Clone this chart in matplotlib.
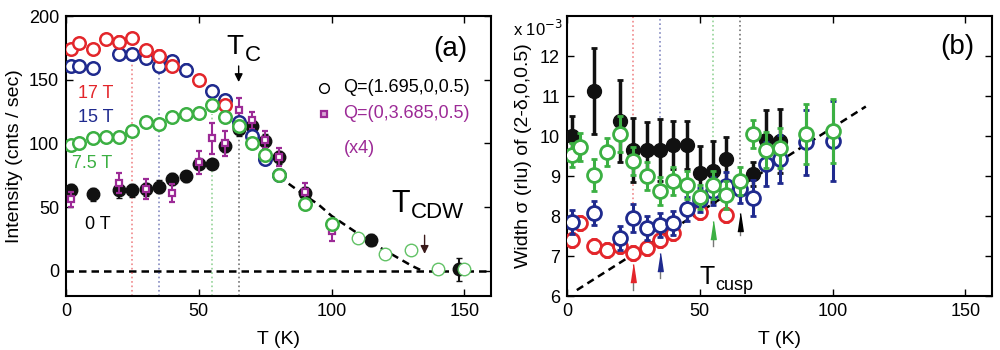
import matplotlib
matplotlib.use('Agg')
import matplotlib.pyplot as plt

plt.rcParams['font.family'] = ['Liberation Sans', 'DejaVu Sans']

RED = '#e3262b'
BLUE = '#1f2a8e'
GREEN = '#3cb043'
LIGHT_GREEN = '#62c266'
MAGENTA = '#9c2a96'

# ---------------- panel (a): intensity vs T ----------------
a_t17 = [2, 5, 10, 15, 20, 25, 30, 35, 40, 50, 60]
a_i17 = [174, 179, 174, 182, 180, 183, 173, 169, 161, 150, 130]

a_t15 = [2, 5, 10, 20, 25, 30, 35, 40, 45, 55, 60, 65, 70, 75, 80]
a_i15 = [161, 161, 159, 170, 170, 167, 161, 165, 158, 141, 134, 117, 106, 88, 75]

a_t75 = [2, 5, 10, 15, 20, 25, 30, 35, 40, 45, 50, 55, 60, 65, 70, 75, 80, 90, 100]
a_i75 = [99, 100, 104, 105, 105, 110, 117, 115, 121, 123, 124, 130, 121, 114, 100, 91, 75, 52, 37]

a_t75_hi = [110, 120, 130, 140, 150]
a_i75_hi = [26, 13, 16, 1, 1]

a_t0 = [2, 10, 20, 25, 30, 35, 40, 45, 50, 55, 60, 65, 70, 75, 80, 90, 115, 148]
a_i0 = [63, 60, 63, 63, 64, 66, 72, 74, 84, 84, 98, 111, 114, 102, 89, 61, 24, 1]
a_e0 = [5, 5, 6, 5, 5, 5, 5, 4, 4, 4, 5, 5, 5, 5, 5, 5, 5, 9]

a_tq = [2, 20, 30, 40, 50, 55, 60, 65, 70, 75, 80, 90, 100]
a_iq = [56, 69, 64, 61, 85, 104, 100, 126, 118, 103, 89, 62, 31]
a_eq = [6, 8, 8, 7, 9, 12, 10, 10, 7, 7, 7, 7, 8]

fit_t = [80, 82, 86, 90, 95, 100, 105, 110, 115, 120, 125, 130, 134]
fit_i = [74, 71, 65, 59, 52, 43, 36, 29, 22, 16, 10, 4, 0]

# T_cusp for 17 T, 15 T, 7.5 T, 0 T
t_cusp = [25, 35, 55, 65]
cusp_colors = [RED, BLUE, GREEN, 'black']

# ---------------- panel (b): width vs T (x 1e-3 rlu) ----------------
b_t0 = [2, 10, 20, 25, 30, 35, 40, 45, 50, 55, 60, 70, 75, 80]
b_w0 = [10.0, 11.13, 10.38, 9.65, 9.65, 9.65, 9.77, 9.77, 9.08, 9.12, 9.44, 9.05, 9.9, 9.88]
b_e0 = [0.5, 1.07, 1.03, 0.8, 0.7, 0.77, 0.6, 0.6, 0.67, 0.76, 0.53, 0.3, 0.75, 0.8]

b_t75 = [2, 5, 10, 15, 20, 25, 30, 35, 40, 45, 50, 55, 60, 65, 70, 75, 80, 90, 100]
b_w75 = [9.53, 9.72, 9.03, 9.6, 10.05, 9.37, 8.99, 8.62, 8.87, 8.77, 8.48, 8.79, 8.54, 8.87,
         10.05, 9.65, 9.71, 10.05, 10.13]
b_e75 = [0.3, 0.35, 0.4, 0.35, 0.45, 0.35, 0.35, 0.35, 0.35, 0.35, 0.3, 0.35, 0.35, 0.35,
         0.35, 0.45, 0.5, 0.75, 0.8]

b_t15 = [2, 10, 20, 25, 30, 35, 40, 45, 50, 55, 60, 65, 70, 75, 80, 90, 100]
b_w15 = [7.85, 8.08, 7.45, 7.95, 7.7, 7.77, 7.83, 8.17, 8.41, 8.62, 8.75, 8.68, 8.45, 9.3,
         9.42, 9.84, 9.88]
b_e15 = [0.3, 0.3, 0.3, 0.35, 0.3, 0.3, 0.3, 0.3, 0.3, 0.35, 0.35, 0.35, 0.45, 0.55, 0.6,
         0.8, 1.0]

b_t17 = [2, 5, 10, 15, 20, 25, 30, 35, 40, 50, 60]
b_w17 = [7.41, 7.83, 7.26, 7.16, 7.26, 7.07, 7.2, 7.41, 7.58, 8.1, 8.03]
b_e17 = [0.18] * len(b_t17)

line_t = [3.7, 112.5]
line_w = [6.15, 10.74]

# arrow tail / head levels in panel (b)
arrow_tail = [6.15, 6.45, 7.24, 7.53]
arrow_head = [6.74, 7.03, 7.83, 8.03]


def style_axes(ax):
    ax.tick_params(direction='in', top=True, right=True, length=5, width=1,
                   labelsize=13, pad=5)
    for sp in ax.spines.values():
        sp.set_linewidth(1.5)


fig = plt.figure(figsize=(10, 3.5), dpi=100)
ax1 = fig.add_axes([0.066, 0.154, 0.425, 0.8])
ax2 = fig.add_axes([0.567, 0.154, 0.425, 0.8])

# ---- panel (a) ----
ax1.axhline(0, color='black', ls=(0, (3, 2)), lw=1.8, zorder=1)
for t, c, top in zip(t_cusp, cusp_colors, [162, 158, 123, 108]):
    ax1.plot([t, t], [-20, top], ls=':', color=c, alpha=0.55, lw=1.2, zorder=1)
ax1.plot(fit_t, fit_i, color='black', ls=(0, (3, 2)), lw=1.8, zorder=2)

circ = dict(marker='o', ms=9, mew=1.8, mfc='white', ls='none', capsize=2, elinewidth=1.3)
ax1.errorbar(a_t0, a_i0, yerr=a_e0, marker='o', ms=9, color='#111111', ls='none',
             capsize=2, elinewidth=1.5, zorder=3)
ax1.errorbar(a_tq, a_iq, yerr=a_eq, marker='s', ms=5, mew=1.6, mfc='white', color=MAGENTA,
             ls='none', capsize=2, elinewidth=1.5, zorder=4)
ax1.errorbar(a_t15, a_i15, yerr=4, color=BLUE, mec=BLUE, zorder=5, **circ)
ax1.errorbar(a_t17, a_i17, yerr=4, color=RED, mec=RED, zorder=6, **circ)
ax1.errorbar(a_t75, a_i75, yerr=3, color=GREEN, mec=GREEN, zorder=7, **circ)
ax1.errorbar(a_t75_hi, a_i75_hi, yerr=3, marker='o', ms=9, mew=1, mfc='white',
             color=LIGHT_GREEN, ls='none', capsize=1.5, elinewidth=0.8, zorder=7)

ax1.set_xlim(0, 160)
ax1.set_ylim(-20, 200)
ax1.set_xticks([0, 50, 100, 150])
ax1.set_yticks([0, 50, 100, 150, 200])
ax1.set_xlabel('T (K)', fontsize=14, labelpad=8)
ax1.set_ylabel('Intensity (cnts / sec)', fontsize=14, labelpad=4)
style_axes(ax1)

ax1.text(4.5, 139, '17 T', color=RED, fontsize=13, va='center')
ax1.text(4.5, 120, '15 T', color=BLUE, fontsize=13, va='center')
ax1.text(2.3, 84, '7.5 T', color=GREEN, fontsize=13, va='center')
ax1.text(7, 36, '0 T', color='black', fontsize=13, va='center')

ax1.text(60.5, 170, 'T', fontsize=20)
ax1.text(67.3, 165, 'C', fontsize=16)
ax1.annotate('', xy=(65, 146), xytext=(65, 163),
             arrowprops=dict(arrowstyle='-|>', color='black', lw=1, mutation_scale=12))
ax1.text(122.5, 46, 'T', fontsize=22)
ax1.text(129.8, 41.4, 'CDW', fontsize=16)
ax1.annotate('', xy=(135, 11), xytext=(135, 30),
             arrowprops=dict(arrowstyle='-|>', color='#3a1a1a', lw=1, mutation_scale=12))

ax1.text(144.5, 174, '(a)', fontsize=20, ha='center', va='center')
ax1.plot([97], [143.75], marker='o', ms=7, mfc='white', mec='black', mew=1)
ax1.text(104.5, 143.75, 'Q=(1.695,0,0.5)', fontsize=13, va='center')
ax1.plot([97], [123.4], marker='s', ms=5, mfc='#d9a6d6', mec=MAGENTA, mew=1.6)
ax1.text(104.5, 123.4, 'Q=(0,3.685,0.5)', fontsize=13, va='center', color=MAGENTA)
ax1.text(104.5, 96, '(x4)', fontsize=13, va='center', color=MAGENTA)

# ---- panel (b) ----
for t, c, low in zip(t_cusp, cusp_colors, [8.2, 8.8, 9.2, 9.2]):
    ax2.plot([t, t], [low, 13], ls=':', color=c, alpha=0.55, lw=1.2, zorder=1)
ax2.plot(line_t, line_w, color='black', ls=(0, (3, 2)), lw=1.8, zorder=2)

circ_b = dict(marker='o', ms=10, mew=2, mfc='white', ls='none', capsize=2.5,
              capthick=2, elinewidth=2.2)
ax2.errorbar(b_t0, b_w0, yerr=b_e0, marker='o', ms=10, color='#111111', ls='none',
             capsize=2.5, capthick=2, elinewidth=2.5, zorder=3)
ax2.errorbar(b_t17, b_w17, yerr=b_e17, color=RED, zorder=4, **circ_b)
ax2.errorbar(b_t15, b_w15, yerr=b_e15, color=BLUE, zorder=5, **circ_b)
ax2.errorbar(b_t75, b_w75, yerr=b_e75, color=GREEN, zorder=6, **circ_b)

head = [(-0.3, -1), (0.3, -1), (0, 1)]
for t, c, lo, hi in zip(t_cusp, cusp_colors, arrow_tail, arrow_head):
    ax2.plot([t, t], [lo, hi - 0.2], color='#777777', lw=1, zorder=3)
    ax2.plot([t], [hi - 0.17], marker=head, ms=13, color=c, mec=c, ls='none', zorder=3)

ax2.set_xlim(0, 160)
ax2.set_ylim(6, 13)
ax2.set_xticks([0, 50, 100, 150])
ax2.set_yticks([6, 7, 8, 9, 10, 11, 12])
ax2.set_xlabel('T (K)', fontsize=14, labelpad=8)
ax2.set_ylabel('Width σ (rlu) of (2-δ,0,0.5)', fontsize=14, labelpad=6)
style_axes(ax2)

ax2.text(50, 6.3, 'T', fontsize=18)
ax2.text(56, 6.15, 'cusp', fontsize=13)
ax2.text(147, 12.23, '(b)', fontsize=20, ha='center', va='center')
fig.text(0.513, 1 - 36 / 350, r'x 10$^{-3}$', fontsize=12)

fig.savefig('out.png', dpi=100)
